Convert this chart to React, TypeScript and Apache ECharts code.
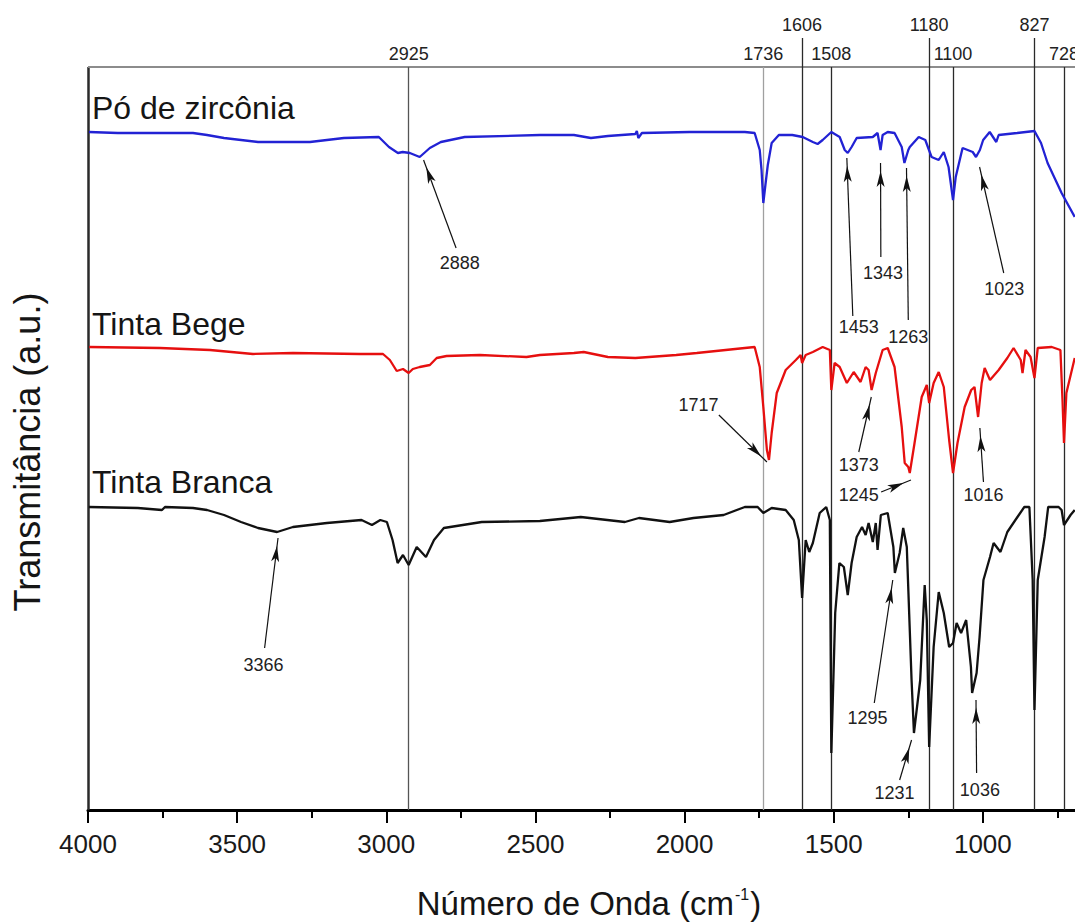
import React, { useEffect, useRef } from "react";
import * as echarts from "echarts";

const FONT = '"Liberation Sans", Arial, Helvetica, sans-serif';

// wavenumber (cm-1), transmittance (a.u., offset per curve)
const poZirconia: [number, number][] = [
  [3997, 678], [3900, 677], [3775, 677], [3648, 677], [3601, 675], [3544, 672], [3430, 668],
  [3256, 668], [3142, 672], [3025, 673], [2991, 663], [2961, 657], [2945, 658], [2921, 657],
  [2888, 653], [2854, 662], [2817, 668], [2737, 673], [2485, 675], [2371, 675], [2314, 672],
  [2257, 674], [2165, 676], [2160, 679], [2155, 672], [2143, 677], [1983, 678], [1798, 678],
  [1765, 677], [1748, 660], [1742, 640], [1736, 607], [1729, 625], [1721, 645], [1708, 667],
  [1684, 675], [1639, 675], [1604, 673], [1570, 668], [1554, 666], [1537, 670], [1508, 678],
  [1480, 673], [1463, 660], [1453, 657], [1440, 663], [1423, 672], [1369, 673], [1353, 677],
  [1343, 660], [1336, 675], [1319, 678], [1296, 677], [1272, 663], [1263, 647], [1250, 660],
  [1245, 663], [1215, 673], [1193, 670], [1172, 653], [1148, 650], [1131, 658], [1115, 643],
  [1100, 610], [1091, 633], [1068, 662], [1051, 660], [1034, 658], [1023, 653], [1010, 660],
  [999, 670], [977, 678], [955, 668], [947, 675], [885, 677], [827, 679], [805, 667],
  [783, 647], [736, 617], [692, 593],
];

const tintaBege: [number, number][] = [
  [3996, 463], [3759, 462], [3591, 460], [3447, 456], [3313, 457], [3088, 456], [3011, 456],
  [2988, 450], [2965, 439], [2944, 441], [2925, 437], [2911, 441], [2888, 443], [2854, 445],
  [2831, 452], [2798, 454], [2686, 455], [2530, 453], [2485, 455], [2371, 457], [2338, 458],
  [2257, 453], [2165, 452], [2028, 455], [1959, 457], [1798, 462], [1765, 463], [1748, 443],
  [1736, 403], [1724, 360], [1717, 350], [1708, 377], [1691, 417], [1661, 440], [1627, 450],
  [1611, 455], [1606, 447], [1594, 455], [1570, 458], [1537, 463], [1513, 460], [1508, 420],
  [1497, 447], [1480, 443], [1456, 427], [1433, 438], [1410, 428], [1393, 443], [1383, 440],
  [1373, 420], [1359, 437], [1336, 460], [1319, 462], [1296, 443], [1272, 383], [1262, 347],
  [1250, 343], [1245, 337], [1229, 367], [1205, 413], [1188, 425], [1180, 407], [1165, 427],
  [1148, 438], [1131, 423], [1113, 370], [1100, 337], [1085, 367], [1061, 403], [1039, 420],
  [1028, 423], [1016, 393], [1004, 427], [994, 442], [976, 430], [947, 440], [918, 452],
  [897, 462], [873, 450], [867, 437], [857, 460], [840, 453], [827, 432], [816, 462],
  [769, 463], [740, 460], [733, 410], [728, 367], [720, 417], [692, 452],
];

const tintaBranca: [number, number][] = [
  [3997, 303], [3833, 302], [3752, 300], [3742, 303], [3648, 302], [3601, 300], [3544, 295],
  [3487, 288], [3430, 282], [3366, 278], [3313, 283], [3199, 287], [3083, 290], [3048, 285],
  [3020, 290], [2998, 288], [2979, 270], [2962, 247], [2944, 255], [2925, 245], [2898, 263],
  [2867, 253], [2840, 270], [2807, 282], [2680, 288], [2485, 289], [2348, 293], [2200, 288],
  [2153, 292], [2050, 288], [1970, 292], [1869, 295], [1798, 303], [1755, 303], [1736, 297],
  [1708, 302], [1661, 300], [1634, 290], [1617, 270], [1606, 212], [1594, 270], [1582, 258],
  [1570, 267], [1547, 297], [1525, 303], [1513, 290], [1508, 57], [1495, 197], [1481, 247],
  [1466, 243], [1453, 215], [1440, 247], [1423, 273], [1405, 283], [1393, 275], [1383, 287],
  [1369, 268], [1359, 287], [1353, 260], [1342, 295], [1319, 297], [1300, 263], [1295, 237],
  [1279, 257], [1267, 282], [1255, 263], [1239, 130], [1231, 77], [1210, 130], [1195, 225],
  [1188, 190], [1180, 63], [1165, 163], [1148, 218], [1131, 197], [1113, 163], [1100, 167],
  [1088, 187], [1073, 177], [1056, 190], [1040, 143], [1036, 117], [1021, 137], [1011, 173],
  [998, 230], [976, 253], [964, 267], [941, 258], [918, 278], [884, 293], [861, 303],
  [844, 303], [833, 230], [827, 100], [816, 230], [793, 273], [781, 303], [746, 303],
  [736, 300], [728, 285], [706, 295], [692, 300],
];

const seriesNames = ["Pó de zircônia", "Tinta Bege", "Tinta Branca"];
const seriesColors = ["#2222d4", "#e60f0f", "#111111"];

// reference (vertical) lines
const refLines = [2925, 1736, 1606, 1508, 1180, 1100, 827, 728];
const tallRefLines = [1606, 1180, 827];

// peak labels: text, wavenumber, value
const peakLabels: [string, number, number][] = [
  ["2888", 2754, 547],
  ["1343", 1335, 537],
  ["1023", 928, 521],
  ["1453", 1416, 483],
  ["1263", 1250, 473],
  ["1717", 1953, 405],
  ["1373", 1416, 345],
  ["1245", 1416, 315],
  ["1016", 998, 315],
  ["3366", 3412, 145],
  ["1295", 1387, 92],
  ["1231", 1296, 17],
  ["1036", 1010, 20],
];

// arrows: from (wn, value) to (wn, value)
const peakArrows: [number, number, number, number][] = [
  [2766, 562, 2875, 650],
  [1342, 553, 1343, 647],
  [930, 537, 1011, 643],
  [1436, 494, 1456, 652],
  [1250, 490, 1256, 642],
  [1885, 395, 1724, 348],
  [1416, 358, 1374, 413],
  [1341, 318, 1241, 330],
  [998, 328, 1010, 382],
  [3408, 162, 3363, 272],
  [1364, 107, 1302, 230],
  [1279, 30, 1239, 70],
  [1021, 37, 1023, 110],
];

const X_MIN = 500;
const X_MAX = 4000;
const Y_MAX = 772;
const FRAME_TOP = 743;

function buildOption(): any {
  const refLineData = refLines.map((wn) => {
    const tall = tallRefLines.includes(wn);
    const color = wn === 1736 ? "#a0a0a0" : wn === 2925 ? "#555555" : "#2a2a2a";
    return [
      { coord: [wn, 0], symbol: "none" },
      {
        coord: [wn, tall ? Y_MAX : FRAME_TOP],
        symbol: "none",
        lineStyle: { color, width: 1.3, type: "solid" },
        label: {
          show: true,
          position: "end",
          distance: 4,
          formatter: String(wn),
          fontSize: 18,
          color: "#222",
          fontFamily: FONT,
        },
      },
    ];
  });

  const frameData = [
    [
      { coord: [X_MAX, 0], symbol: "none" },
      { coord: [X_MAX, FRAME_TOP], symbol: "none", lineStyle: { color: "#2a2a2a", width: 2.5, type: "solid" }, label: { show: false } },
    ],
    [
      { coord: [X_MAX, FRAME_TOP], symbol: "none" },
      { coord: [X_MIN, FRAME_TOP], symbol: "none", lineStyle: { color: "#8c8c8c", width: 1.8, type: "solid" }, label: { show: false } },
    ],
  ];

  const arrowData = peakArrows.map(([x1, y1, x2, y2]) => [
    { coord: [x1, y1], symbol: "none" },
    {
      coord: [x2, y2],
      symbol: "arrow",
      symbolSize: [6, 16],
      symbolOffset: [0, 8],
      lineStyle: { color: "#111", width: 1.2, type: "solid" },
      label: { show: false },
    },
  ]);

  const labelData = peakLabels.map(([t, x, y]) => ({
    name: t,
    coord: [x, y],
    symbol: "circle",
    symbolSize: 1,
    itemStyle: { color: "rgba(0,0,0,0)" },
    label: { show: true, position: "inside", formatter: t, fontSize: 18, color: "#222", fontFamily: FONT },
  }));

  const datasets = [poZirconia, tintaBege, tintaBranca];

  const series: any[] = datasets.map((d, i) => ({
    type: "line",
    name: seriesNames[i],
    data: d,
    symbol: "none",
    showSymbol: false,
    silent: true,
    lineStyle: { color: seriesColors[i], width: 2.3 },
    itemStyle: { color: seriesColors[i] },
    z: 3,
  }));

  series[2].markLine = {
    silent: true,
    animation: false,
    symbol: ["none", "none"],
    z: 2,
    data: [...frameData, ...refLineData, ...arrowData],
  };
  series[2].markPoint = {
    silent: true,
    animation: false,
    data: labelData,
  };

  const labelY = [108, 324, 482];

  return {
    animation: false,
    backgroundColor: "#ffffff",
    grid: { left: 88, top: 38, width: 1044, height: Y_MAX, containLabel: false, outerBoundsMode: "none" },
    xAxis: {
      type: "value",
      inverse: true,
      min: X_MIN,
      max: X_MAX,
      interval: 500,
      axisLine: { show: true, lineStyle: { color: "#000", width: 3 } },
      axisTick: { show: true, inside: false, length: 13, lineStyle: { color: "#000", width: 2 } },
      minorTick: { show: true, splitNumber: 2, length: 8, lineStyle: { color: "#000", width: 2 } },
      axisLabel: {
        fontSize: 26,
        color: "#1a1a1a",
        margin: 21,
        fontFamily: FONT,
        formatter: (v: number) => (v < 1000 ? "" : String(v)),
      },
      splitLine: { show: false },
      minorSplitLine: { show: false },
    },
    yAxis: { type: "value", min: 0, max: Y_MAX, show: false },
    series,
    graphic: [
      ...seriesNames.map((n, i) => ({
        type: "text",
        x: 92,
        y: labelY[i],
        silent: true,
        style: { text: n, fontSize: 32, fontFamily: FONT, fill: "#151515", align: "left", verticalAlign: "middle" },
      })),
      {
        type: "text",
        x: 589,
        y: 903,
        silent: true,
        style: {
          text: "Número de Onda (cm{sup|-1})",
          fontSize: 33,
          fontFamily: FONT,
          fill: "#151515",
          align: "center",
          verticalAlign: "middle",
          rich: {
            sup: { fontSize: 16, fontFamily: FONT, fill: "#151515", verticalAlign: "top", padding: [0, 1, 0, 1] },
          },
        },
      },
      {
        type: "text",
        x: 27,
        y: 452,
        rotation: Math.PI / 2,
        silent: true,
        style: { text: "Transmitância (a.u.)", fontSize: 36, fontFamily: FONT, fill: "#151515", align: "center", verticalAlign: "middle" },
      },
    ],
  };
}

export default function App() {
  const ref = useRef<HTMLDivElement>(null);
  useEffect(() => {
    document.body.style.margin = "0";
    if (!ref.current) return;
    const chart = echarts.init(ref.current, null, { renderer: "svg" });
    chart.setOption(buildOption());
    return () => {
      chart.dispose();
    };
  }, []);
  return <div ref={ref} style={{ width: 1075, height: 922, overflow: "hidden", background: "#fff" }} />;
}
